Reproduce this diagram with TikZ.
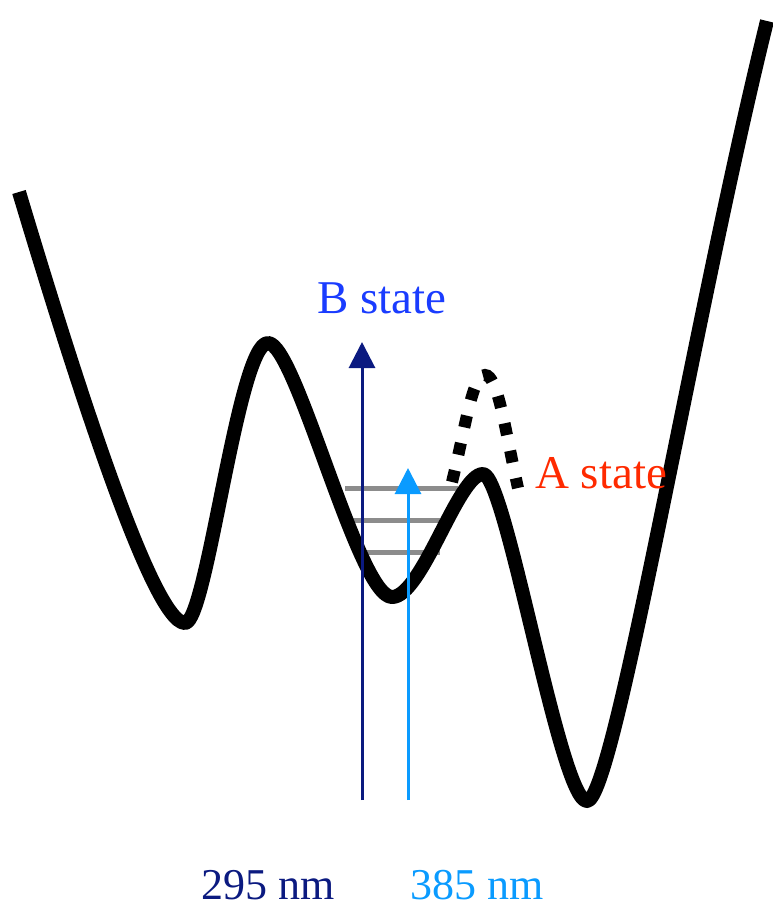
\documentclass[tikz,border=0pt]{standalone}
\usepackage{fontspec}
\setmainfont{Liberation Serif}
\usetikzlibrary{arrows.meta}
\definecolor{navy}{HTML}{0B1A80}
\definecolor{sky}{HTML}{0A9BFF}
\definecolor{bblue}{HTML}{1A3CFF}
\definecolor{ared}{HTML}{FF2A00}
\definecolor{level}{HTML}{8C8C8C}
\tikzset{
  wellcurve/.style={line width=14pt,color=black,line join=round,line cap=butt},
  dotcurve/.style={line width=12pt,color=black,dash pattern=on 12pt off 16pt},
  levelline/.style={line width=5pt,color=level},
  uvarrow/.style={-{Triangle[length=26pt,width=26pt]},line width=3pt},
  lbl/.style={inner sep=0pt,anchor=base,font=\fontsize{44}{50}\selectfont},
  statelbl/.style={lbl,font=\fontsize{47}{54}\selectfont},
}
\begin{document}
\begin{tikzpicture}[x=1pt,y=-1pt]
  \useasboundingbox (0,0) rectangle (773,908);
  % vibrational levels
  \coordinate (l1a) at (345,488); \coordinate (l1b) at (458,488);
  \coordinate (l2a) at (353,520); \coordinate (l2b) at (440,520);
  \coordinate (l3a) at (365,552); \coordinate (l3b) at (440,552);
  \draw[levelline] (l1a)--(l1b); \draw[levelline] (l2a)--(l2b);
  \draw[levelline] (l3a)--(l3b);
  % potential
  \coordinate (top1) at (19,192);  \coordinate (min1) at (185,623);
  \coordinate (max1) at (268,343); \coordinate (min2) at (392,597);
  \coordinate (max2) at (483,474); \coordinate (min3) at (587,801);
  \coordinate (top2) at (767,21);
  \draw[wellcurve] (top1) .. controls (62,335) and (150,623) .. (min1)
    .. controls (207,623) and (238,343) .. (max1)
    .. controls (296,343) and (358,597) .. (min2)
    .. controls (422,597) and (458,474) .. (max2)
    .. controls (506,474) and (560,801) .. (min3)
    .. controls (614,801) and (693,321) .. (top2);
  \draw[dotcurve] (452,482) .. controls (465,430) and (472,375) .. (485,375)
    .. controls (498,375) and (505,430) .. (518,488);
  % excitation arrows
  \coordinate (b0) at (362,800); \coordinate (b1) at (362,342);
  \coordinate (a0) at (408,800); \coordinate (a1) at (408,468);
  \draw[uvarrow,navy] (b0)--(b1);
  \draw[uvarrow,sky] (a0)--(a1);
  \node[statelbl,text=bblue] (bst) at (382,313) {B state};
  \node[statelbl,text=ared,anchor=base west] (ast) at (535,488) {A state};
  \node[lbl,text=navy] (nm295) at (268,899) {295 nm};
  \node[lbl,text=sky] (nm385) at (477,899) {385 nm};
\end{tikzpicture}
\end{document}
